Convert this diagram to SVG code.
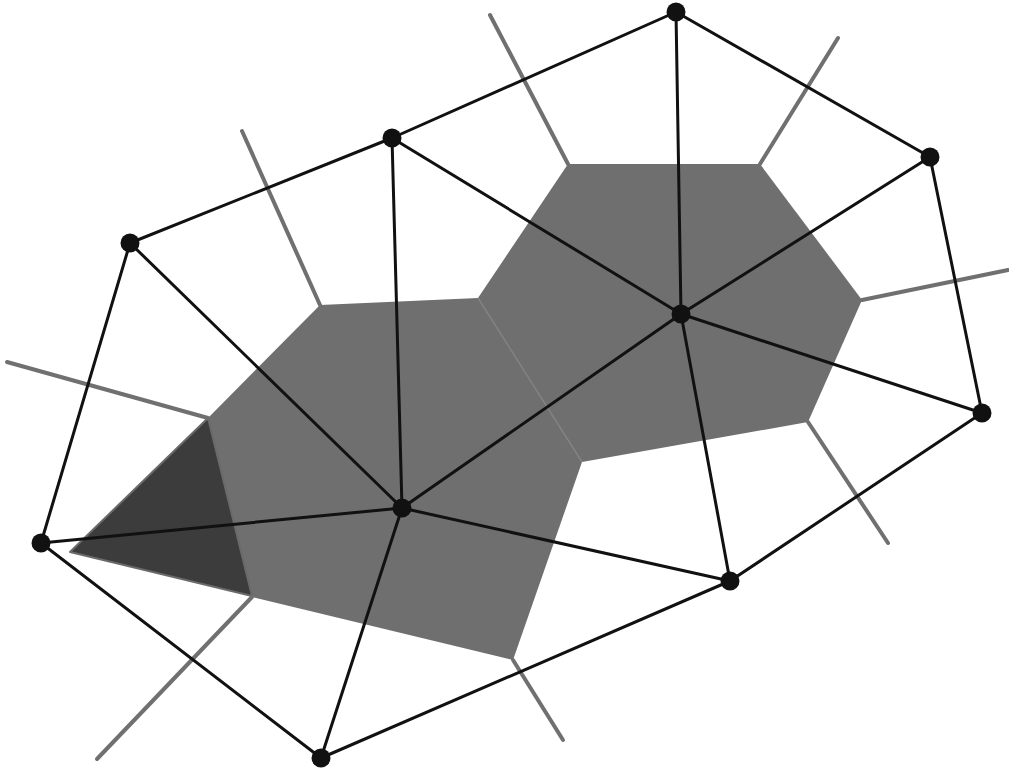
<svg xmlns="http://www.w3.org/2000/svg" width="1009" height="773" viewBox="0 0 1009 773">
  <style>
    .cell { fill: #6f6f6f; stroke: none; }
    .dark { fill: #3c3c3c; stroke: #6a6a6a; stroke-width: 2; stroke-linejoin: round; }
    .ray { stroke: #707070; stroke-width: 4; stroke-linecap: round; fill: none; }
    .div { stroke: #828282; stroke-width: 1.5; fill: none; }
    .edge { stroke: #111; stroke-width: 3; stroke-linecap: round; fill: none; }
    .node { fill: #111; }
  </style>
  <rect width="1009" height="773" fill="#fff"/>
  <g id="cells">
    <polygon id="cell-G" class="cell" points="320,305 478,298 582,462 513,660 252,597 208,418"/>
    <polygon id="cell-E" class="cell" points="478,298 568,164 760,164 862,300 808,422 582,462"/>
    <line class="div" x1="478" y1="298" x2="582" y2="462"/>
    <polygon id="dark-triangle" class="dark" points="70,552 208,418 252,596"/>
  </g>
  <g id="voronoi-rays">
    <line class="ray" x1="7" y1="362" x2="208" y2="418"/>
    <line class="ray" x1="242" y1="131" x2="320" y2="305"/>
    <line class="ray" x1="490" y1="15" x2="568" y2="164"/>
    <line class="ray" x1="838" y1="38" x2="760" y2="164"/>
    <line class="ray" x1="1008" y1="270" x2="862" y2="300"/>
    <line class="ray" x1="888" y1="543" x2="808" y2="422"/>
    <line class="ray" x1="563" y1="740" x2="513" y2="660"/>
    <line class="ray" x1="97" y1="759" x2="252" y2="597"/>
  </g>
  <g id="connectors">
    <line class="edge" x1="130" y1="243" x2="392" y2="138"/>
    <line class="edge" x1="392" y1="138" x2="676" y2="12"/>
    <line class="edge" x1="676" y1="12" x2="930" y2="157"/>
    <line class="edge" x1="930" y1="157" x2="982" y2="413"/>
    <line class="edge" x1="982" y1="413" x2="730" y2="581"/>
    <line class="edge" x1="730" y1="581" x2="321" y2="758"/>
    <line class="edge" x1="321" y1="758" x2="41" y2="543"/>
    <line class="edge" x1="41" y1="543" x2="130" y2="243"/>
    <line class="edge" x1="130" y1="243" x2="402" y2="508"/>
    <line class="edge" x1="392" y1="138" x2="402" y2="508"/>
    <line class="edge" x1="392" y1="138" x2="681" y2="314"/>
    <line class="edge" x1="676" y1="12" x2="681" y2="314"/>
    <line class="edge" x1="930" y1="157" x2="681" y2="314"/>
    <line class="edge" x1="982" y1="413" x2="681" y2="314"/>
    <line class="edge" x1="730" y1="581" x2="681" y2="314"/>
    <line class="edge" x1="402" y1="508" x2="681" y2="314"/>
    <line class="edge" x1="402" y1="508" x2="41" y2="543"/>
    <line class="edge" x1="402" y1="508" x2="730" y2="581"/>
    <line class="edge" x1="402" y1="508" x2="321" y2="758"/>
  </g>
  <g id="node-A"><circle class="node" cx="676" cy="12" r="9.5"/></g>
  <g id="node-B"><circle class="node" cx="392" cy="138" r="9.5"/></g>
  <g id="node-C"><circle class="node" cx="930" cy="157" r="9.5"/></g>
  <g id="node-D"><circle class="node" cx="130" cy="243" r="9.5"/></g>
  <g id="node-E"><circle class="node" cx="681" cy="314" r="9.5"/></g>
  <g id="node-F"><circle class="node" cx="982" cy="413" r="9.5"/></g>
  <g id="node-G"><circle class="node" cx="402" cy="508" r="9.5"/></g>
  <g id="node-H"><circle class="node" cx="41" cy="543" r="9.5"/></g>
  <g id="node-I"><circle class="node" cx="730" cy="581" r="9.5"/></g>
  <g id="node-J"><circle class="node" cx="321" cy="758" r="9.5"/></g>
</svg>
